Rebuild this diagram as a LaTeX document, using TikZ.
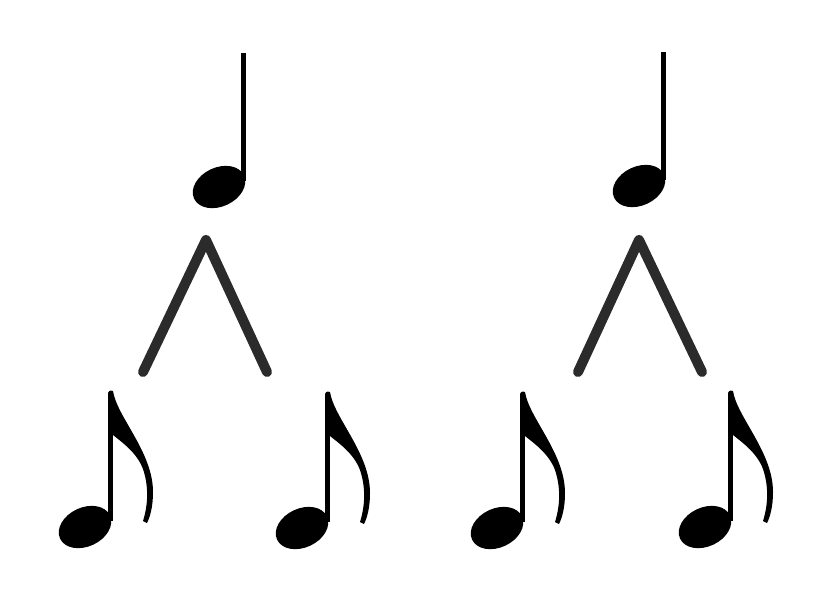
\documentclass[tikz,border=0pt]{standalone}
\usepackage{tikz}

\tikzset{
  split/.style={draw=black!83, line width=5.7pt, line cap=round, line join=round},
  quarter/.pic={
    \fill[rotate=25] (0,0) ellipse (27.5 and 19.5);
    \fill (21.5,-6) rectangle (26.5,-134);
  },
  eighth/.pic={
    \fill[rotate=25] (0,0) ellipse (27.5 and 19.5);
    \fill (23,-6) rectangle (28,-134);
    % flag
    \fill (23,-134) .. controls (24,-137) and (27,-137) .. (28,-136)
      .. controls (32,-110) and (68,-75) .. (68,-35)
      .. controls (68,-20) and (65,-10) .. (62,-4)
      -- (58,-6)
      .. controls (63,-22) and (64,-40) .. (58,-58)
      .. controls (52,-74) and (38,-84) .. (28,-92) -- cycle;
  },
}

\begin{document}
\begin{tikzpicture}[x=0.02cm, y=-0.02cm]
  \useasboundingbox (0,0) rectangle (827,610);

  % quarter notes
  \coordinate (Q1) at (219,187);
  \coordinate (Q2) at (639,186);
  \pic at (Q1) {quarter};
  \pic at (Q2) {quarter};

  % splits
  \coordinate (top1) at (206,240);
  \coordinate (left1) at (143,372);
  \coordinate (right1) at (267,372);
  \coordinate (top2) at (639,240);
  \coordinate (left2) at (578,372);
  \coordinate (right2) at (702,372);
  \draw[split] (left1) -- (top1) -- (right1);
  \draw[split] (left2) -- (top2) -- (right2);

  % eighth notes
  \coordinate (E1) at (85,527);
  \coordinate (E2) at (302,528);
  \coordinate (E3) at (497,528);
  \coordinate (E4) at (705,527);
  \foreach \e in {E1,E2,E3,E4}
    \pic at (\e) {eighth};
\end{tikzpicture}
\end{document}
